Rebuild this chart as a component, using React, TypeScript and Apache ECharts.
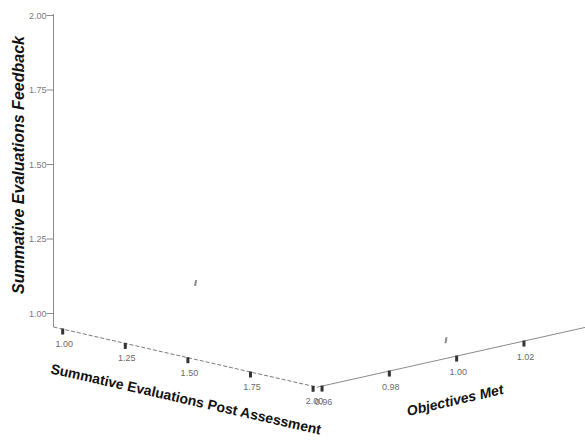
import React, { useEffect, useRef } from "react";
import * as echarts from "echarts";

// ---- data ----
const postTicks = [1.0, 1.25, 1.5, 1.75, 2.0];
const feedbackTicks = [1.0, 1.25, 1.5, 1.75, 2.0];
const objectivesTicks = [0.96, 0.98, 1.0, 1.02];
const postValues = [1.0, 2.0];
const feedbackValues = [1.01, 1.01];
const objectivesValues = [0.998, 0.998];
const titlePost = "Summative Evaluations Post Assessment";
const titleFeedback = "Summative Evaluations Feedback";
const titleObjectives = "Objectives Met";

// ---- projection (layout) ----
const ORIGIN = [53.5, 327];
const POST_MIN = 0.9633, POST_MAX = 2.0156;
const FB_MIN = 0.9547, FB_MAX = 2.005;
const OBJ_MIN = 0.9585, OBJ_MAX = 1.045;
const POST_V = [250.4, 57.2];
const OBJ_V = [3365, -750];
const FB_V = [0, -298];

function project(post: number, fb: number, obj: number): [number, number] {
  const a = post - POST_MIN, b = obj - OBJ_MIN, c = fb - FB_MIN;
  return [
    ORIGIN[0] + a * POST_V[0] + b * OBJ_V[0] + c * FB_V[0],
    ORIGIN[1] + a * POST_V[1] + b * OBJ_V[1] + c * FB_V[1],
  ];
}

const FONT = "'Liberation Sans', Arial, sans-serif";

function buildGraphics() {
  const g: any[] = [];
  // vertical axis
  const vb = project(POST_MIN, FB_MIN, OBJ_MIN);
  const vt = project(POST_MIN, FB_MAX, OBJ_MIN);
  g.push({ type: "line", shape: { x1: vb[0], y1: vb[1], x2: vt[0], y2: vt[1] }, style: { stroke: "#8a8a8a", lineWidth: 1 } });
  feedbackTicks.forEach((t) => {
    const p = project(POST_MIN, t, OBJ_MIN);
    g.push({ type: "line", shape: { x1: p[0] - 7, y1: p[1], x2: p[0], y2: p[1] }, style: { stroke: "#8a8a8a", lineWidth: 1 } });
    g.push({ type: "text", x: p[0] - 7, y: p[1], style: { text: t.toFixed(2), fill: "#7a7a7a", font: `9px ${FONT}`, align: "right", verticalAlign: "middle" } });
  });
  // post axis (dashed)
  const pc = project(POST_MAX, FB_MIN, OBJ_MIN);
  g.push({ type: "line", shape: { x1: vb[0], y1: vb[1], x2: pc[0], y2: pc[1] }, style: { stroke: "#7a7a7a", lineWidth: 1, lineDash: [4, 2] } });
  postTicks.forEach((t) => {
    const p = project(t, FB_MIN, OBJ_MIN);
    g.push({ type: "rect", shape: { x: p[0] - 1.5, y: p[1] - 0.5, width: 3, height: 6 }, style: { fill: "#333" } });
    g.push({ type: "text", x: p[0] + 1.5, y: p[1] + 15, style: { text: t.toFixed(2), fill: "#6a6a6a", font: `9px ${FONT}`, align: "center", verticalAlign: "middle" } });
  });
  // objectives axis
  const oe = project(POST_MAX, FB_MIN, OBJ_MAX);
  g.push({ type: "line", shape: { x1: pc[0], y1: pc[1], x2: oe[0], y2: oe[1] }, style: { stroke: "#8a8a8a", lineWidth: 1 } });
  objectivesTicks.forEach((t) => {
    const p = project(POST_MAX, FB_MIN, t);
    g.push({ type: "rect", shape: { x: p[0] - 1.5, y: p[1] - 0.5, width: 3, height: 6 }, style: { fill: "#333" } });
    g.push({ type: "text", x: p[0] + 1.5, y: p[1] + 16, style: { text: t.toFixed(2), fill: "#6a6a6a", font: `9px ${FONT}`, align: "center", verticalAlign: "middle" } });
  });
  // titles
  g.push({ type: "text", x: 18, y: 165, rotation: Math.PI / 2, style: { text: titleFeedback, fill: "#111", font: `italic bold 16px ${FONT}`, align: "center", verticalAlign: "middle" } });
  g.push({ type: "text", x: 186, y: 399, rotation: -0.224, style: { text: titlePost, fill: "#111", font: `bold 14px ${FONT}`, align: "center", verticalAlign: "middle" } });
  g.push({ type: "text", x: 455, y: 400, rotation: 0.227, style: { text: titleObjectives, fill: "#111", font: `italic bold 14px ${FONT}`, align: "center", verticalAlign: "middle" } });
  return g;
}

export default function App() {
  const ref = useRef<HTMLDivElement>(null);
  useEffect(() => {
    if (!ref.current) return;
    const chart = echarts.init(ref.current, null, { renderer: "svg" });
    const data = postValues.map((p, i) => [p, feedbackValues[i], objectivesValues[i]]);
    chart.setOption({
      animation: false,
      backgroundColor: "#ffffff",
      graphic: buildGraphics(),
      series: [
        {
          type: "custom",
          coordinateSystem: "none",
          data,
          renderItem: (_params: any, api: any) => {
            const [x, y] = project(api.value(0), api.value(1), api.value(2));
            return {
              type: "polygon",
              shape: { points: [[x - 1.5, y + 3], [x + 0.5, y + 3], [x + 1.5, y - 3], [x - 0.5, y - 3]] },
              style: { fill: "#8c8c8c" },
            };
          },
        },
      ],
    });
    return () => chart.dispose();
  }, []);
  return <div ref={ref} style={{ position: "fixed", left: 0, top: 0, width: 585, height: 441 }} />;
}
